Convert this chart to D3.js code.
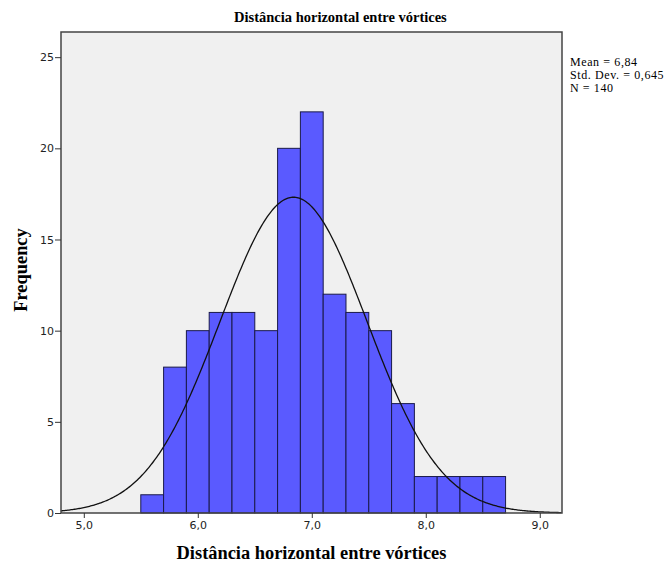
<!DOCTYPE html>
<html>
<head>
<meta charset="utf-8">
<script src="https://cdn.jsdelivr.net/npm/d3@7"></script>
<style>
  body { margin: 0; background: #fff; }
  .tick text { font-family: "DejaVu Sans", sans-serif; font-size: 11px; fill: #222; }
  .tick line { stroke: #333; }
  .domain { stroke: none; }
</style>
</head>
<body>
<div id="chart"></div>
<script>
;(function () {

    // histogram bins (lower edges) and counts
    var binStarts = [5.5, 5.7, 5.9, 6.1, 6.3, 6.5, 6.7, 6.9, 7.1, 7.3, 7.5, 7.7, 7.9, 8.1, 8.3, 8.5];
    var binWidth = 0.2;
    var counts = [1, 8, 10, 11, 11, 10, 20, 22, 12, 11, 10, 6, 2, 2, 2, 2];

    var xTicks = [5, 6, 7, 8, 9];
    var yTicks = [0, 5, 10, 15, 20, 25];

    var mean = 6.84, stdDev = 0.645, n = 140;
    var statLines = ['Mean = 6,84', 'Std. Dev. = 0,645', 'N = 140'];

    var width = 669
        , height = 565
        , margin = { top: 32, right: 107, bottom: 52, left: 61 };

    var plotW = width - margin.left - margin.right
        , plotH = height - margin.top - margin.bottom;

    var svg = d3.select('#chart').append('svg')
        .attr('width', width)
        .attr('height', height);

    var g = svg.append('g')
        .attr('transform', 'translate(' + margin.left + ',' + margin.top + ')');

    var x = d3.scaleLinear().domain([4.8, 9.195]).range([0, plotW]);
    var y = d3.scaleLinear().domain([0, 26.38]).range([plotH, 0]);

    g.append('rect')
        .attr('width', plotW)
        .attr('height', plotH)
        .attr('fill', '#f0f0f0');

    g.selectAll('.bar')
        .data(counts)
        .enter().append('rect')
        .attr('class', 'bar')
        .attr('x', function(d, i) { return x(binStarts[i]); })
        .attr('y', function(d) { return y(d); })
        .attr('width', function(d, i) { return x(binStarts[i] + binWidth) - x(binStarts[i]); })
        .attr('height', function(d) { return y(0) - y(d); })
        .attr('fill', '#5a5aff')
        .attr('stroke', '#1a1a4a')
        .attr('stroke-width', 1);

    // fitted normal curve scaled to counts
    var curvePts = d3.range(4.8, 9.2, 0.01).map(function(v) {
        var z = (v - mean) / stdDev;
        return [v, n * binWidth * Math.exp(-0.5 * z * z) / (stdDev * Math.sqrt(2 * Math.PI))];
    });

    g.append('path')
        .datum(curvePts)
        .attr('fill', 'none')
        .attr('stroke', '#111')
        .attr('stroke-width', 1.3)
        .attr('d', d3.line()
            .x(function(d) { return x(d[0]); })
            .y(function(d) { return y(d[1]); }));

    // frame
    g.append('rect')
        .attr('width', plotW)
        .attr('height', plotH)
        .attr('fill', 'none')
        .attr('stroke', '#444')
        .attr('stroke-width', 1.5);

    g.append('g')
        .attr('transform', 'translate(0,' + plotH + ')')
        .call(d3.axisBottom(x)
            .tickValues(xTicks)
            .tickSize(5)
            .tickPadding(3)
            .tickFormat(function(d) { return d3.format('.1f')(d).replace('.', ','); }));

    g.append('g')
        .call(d3.axisLeft(y)
            .tickValues(yTicks)
            .tickSize(6)
            .tickPadding(1)
            .tickFormat(d3.format('d')));

    svg.append('text')
        .attr('x', 234)
        .attr('y', 22)
        .style('font-family', '"Liberation Serif", serif')
        .style('font-weight', 'bold')
        .style('font-size', '14.5px')
        .text('Distância horizontal entre vórtices');

    svg.append('text')
        .attr('x', 311.5)
        .attr('y', 559)
        .attr('text-anchor', 'middle')
        .style('font-family', '"Liberation Serif", serif')
        .style('font-weight', 'bold')
        .style('font-size', '18.4px')
        .text('Distância horizontal entre vórtices');

    svg.append('text')
        .attr('transform', 'translate(27,270) rotate(-90)')
        .attr('text-anchor', 'middle')
        .style('font-family', '"Liberation Serif", serif')
        .style('font-weight', 'bold')
        .style('font-size', '18.4px')
        .text('Frequency');

    svg.selectAll('.stat')
        .data(statLines)
        .enter().append('text')
        .attr('class', 'stat')
        .attr('x', 570)
        .attr('y', function(d, i) { return 65.5 + i * 13; })
        .style('font-family', '"Liberation Serif", serif')
        .style('font-size', '12px')
        .style('letter-spacing', '0.6px')
        .text(function(d) { return d; });

}());
</script>
</body>
</html>
